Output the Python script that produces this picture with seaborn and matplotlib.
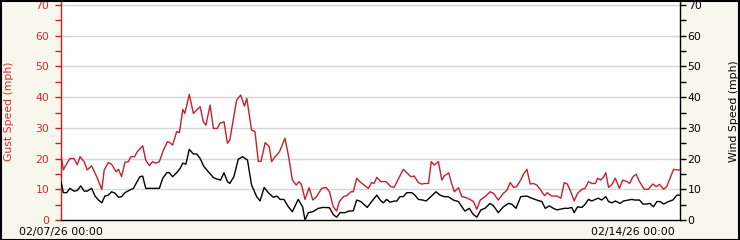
import matplotlib
matplotlib.use("Agg")
import matplotlib.pyplot as plt
from matplotlib.patches import Rectangle
from matplotlib.ticker import FixedLocator, NullFormatter
import seaborn as sns
import pandas as pd

# ---- data (hours since 02/07/26 00:00) ----
gust_hours = [0.0, 0.7, 1.2, 2.6, 3.8, 4.8, 5.6, 6.8, 7.7, 9.0, 10.5, 12.0, 12.7, 13.9, 14.9, 16.2,
              16.9, 17.8, 18.8, 19.8, 20.5, 21.6, 22.4, 24.0, 24.9, 26.0, 26.9, 27.9, 28.9, 30.1,
              31.3, 32.0, 32.8, 34.0, 34.8, 35.8, 36.4, 37.7, 38.9, 39.9, 40.9, 41.8, 42.6, 43.8,
              44.8, 45.9, 46.7, 47.9, 48.9, 49.6, 50.6, 51.6, 52.8, 53.9, 54.6, 56.0, 57.0, 58.0,
              58.8, 60.0, 61.2, 61.9, 62.9, 64.2, 65.8, 66.8, 68.0, 69.1, 70.0, 70.7, 71.7, 72.9,
              74.0, 75.1, 76.6, 77.9, 78.9, 80.0, 81.0, 81.8, 83.0, 84.2, 85.2, 85.9, 86.9, 88.1,
              89.4, 90.3, 91.3, 92.0, 92.8, 94.0, 95.5, 96.9, 97.9, 99.1, 100.6, 101.8, 102.8,
              103.8, 105.0, 106.0, 107.0, 108.0, 108.8, 109.7, 110.9, 111.9, 112.6, 113.9, 114.8,
              115.6, 116.8, 117.8, 119.0, 120.2, 121.2, 122.2, 123.2, 124.6, 126.1, 127.1, 128.5,
              130.0, 131.0, 132.0, 133.0, 133.9, 135.1, 135.9, 136.9, 137.9, 138.8, 139.8, 140.8,
              142.1, 142.9, 144.2, 145.7, 146.9, 147.9, 148.8, 149.8, 150.8, 151.8, 153.1, 154.0,
              155.0, 156.0, 157.0, 157.7, 158.6, 159.4, 160.1, 160.9, 161.9, 162.9, 164.1, 165.1,
              166.3, 167.1, 168.1, 169.0, 170.0, 171.4, 172.6, 173.9, 174.9, 175.9, 177.1, 178.0,
              179.0, 180.0, 181.0, 182.0]
gust_mph = [21.2, 16.3, 17.4, 20.0, 20.0, 18.0, 20.6, 19.0, 16.3, 17.6, 14.1, 10.0, 16.3, 18.7, 18.1, 15.7,
            16.5, 14.1, 18.8, 19.0, 20.6, 20.6, 22.2, 24.2, 19.5, 17.7, 19.0, 18.5, 19.0, 22.8,
            25.5, 25.2, 24.4, 28.8, 28.4, 36.0, 34.7, 40.9, 34.7, 35.8, 36.9, 32.0, 30.9, 37.4,
            29.8, 29.8, 31.5, 32.0, 25.0, 26.0, 32.6, 39.0, 40.7, 37.1, 39.6, 29.3, 28.8, 19.0,
            19.2, 25.2, 23.9, 19.0, 20.6, 22.2, 26.6, 21.2, 13.0, 11.4, 12.5, 11.4, 6.7, 10.5,
            6.5, 7.6, 10.3, 10.6, 9.2, 4.3, 2.9, 6.0, 7.6, 8.1, 9.2, 9.2, 13.6, 12.2,
            11.1, 10.3, 12.2, 11.9, 13.9, 12.5, 12.5, 10.9, 10.6, 13.3, 16.5, 15.2, 14.1,
            14.3, 12.2, 11.7, 11.9, 11.9, 19.0, 17.9, 19.0, 13.0, 14.3, 15.4, 11.9,
            9.2, 10.5, 7.6, 7.3, 6.7, 6.0, 3.5, 6.5, 7.6, 9.2, 8.7, 6.5,
            8.7, 9.6, 12.2, 10.6, 10.9, 13.0, 14.9, 16.5, 11.7, 11.9, 11.4, 10.0,
            7.9, 8.9, 7.8, 7.8, 7.1, 12.2, 11.7, 9.2, 6.2, 8.7, 10.0, 10.3,
            12.5, 11.9, 11.9, 13.6, 13.0, 13.9, 15.4, 10.6, 11.6, 13.6, 10.3, 13.0,
            12.5, 11.9, 14.1, 14.9, 12.5, 10.0, 10.0, 11.7, 10.9, 11.6, 10.0, 10.9,
            13.6, 16.5, 16.3, 16.3]

wind_hours = [0.0, 0.7, 1.7, 2.6, 3.8, 4.8, 5.8, 6.8, 7.7, 9.0, 10.0, 11.0, 12.0, 12.9, 13.9, 14.9,
              15.9, 16.9, 17.8, 18.8, 20.3, 21.3, 22.2, 23.2, 24.0, 24.9, 26.2, 27.6, 28.9, 29.9,
              31.1, 31.8, 32.8, 34.0, 35.0, 35.8, 36.7, 37.7, 38.9, 39.9, 40.9, 42.0, 43.3, 44.8,
              45.9, 46.9, 47.9, 48.9, 49.6, 50.8, 52.1, 53.4, 54.8, 56.0, 57.5, 58.5, 59.7, 60.9,
              62.4, 63.4, 64.4, 65.5, 66.8, 68.0, 69.7, 71.0, 71.7, 72.7, 74.0, 75.6, 77.1, 78.9,
              80.0, 81.0, 82.0, 83.5, 84.5, 85.9, 86.9, 88.1, 88.9, 90.0, 91.3, 92.8, 93.8, 94.7,
              95.7, 96.7, 97.7, 98.7, 99.6, 100.6, 101.6, 103.1, 104.0, 105.0, 106.3, 107.3,
              108.5, 110.2, 111.4, 112.6, 113.8, 115.3, 116.8, 117.8, 118.7, 120.0, 121.0, 122.2,
              123.4, 124.6, 126.1, 127.1, 128.5, 130.0, 131.5, 132.5, 133.7, 135.1, 136.9, 138.3,
              139.8, 141.3, 142.3, 143.5, 144.7, 145.7, 146.7, 147.9, 149.1, 150.1, 150.8, 151.8,
              153.1, 154.0, 155.0, 156.0, 157.0, 157.9, 158.9, 160.1, 160.9, 161.9, 162.9, 164.3,
              165.3, 166.8, 167.7, 168.7, 170.0, 171.0, 172.1, 173.1, 174.1, 175.1, 176.1, 177.1,
              178.5, 179.8, 181.0, 182.0]
wind_mph = [12.5, 8.9, 8.9, 10.3, 9.4, 9.6, 11.1, 9.4, 9.4, 10.3, 7.8, 6.5, 5.6, 7.8, 8.1, 9.2,
            8.7, 7.4, 7.6, 8.9, 9.8, 10.3, 12.2, 14.1, 14.3, 10.3, 10.3, 10.3, 10.3, 13.6,
            15.4, 15.4, 14.1, 15.4, 16.8, 18.5, 18.2, 23.0, 21.5, 21.5, 20.0, 17.4, 15.7, 13.8,
            13.3, 13.0, 15.4, 12.5, 11.9, 14.1, 19.8, 20.6, 19.5, 11.4, 7.6, 6.2, 10.6, 8.9,
            7.4, 7.8, 6.7, 6.7, 4.3, 2.7, 6.7, 4.3, 0.0, 2.4, 2.7, 3.8, 4.1, 4.0,
            1.8, 0.9, 2.4, 2.4, 2.9, 3.0, 6.5, 6.0, 5.2, 4.1, 6.0, 8.1, 6.5, 5.6,
            6.7, 5.8, 6.1, 6.2, 7.6, 7.6, 8.9, 8.9, 8.1, 6.7, 6.5, 6.2,
            7.4, 9.2, 8.1, 7.6, 7.6, 6.5, 6.0, 4.3, 2.9, 3.8, 2.0, 0.9,
            3.3, 3.8, 5.4, 4.6, 2.4, 4.3, 5.4, 5.1, 3.8, 7.6, 7.8, 7.1,
            6.5, 6.0, 3.8, 4.6, 3.8, 3.3, 3.5, 3.8, 3.8, 4.1, 2.4, 4.3,
            4.1, 5.1, 6.7, 6.2, 6.7, 7.1, 6.5, 7.6, 6.0, 5.6, 6.2, 5.4,
            6.2, 6.5, 6.7, 6.5, 6.5, 5.2, 5.2, 5.4, 4.3, 6.0, 6.0, 5.2,
            6.0, 6.5, 8.1, 8.1]

day_ticks = [0, 24, 48, 72, 96, 120, 144, 168]
labeled_ticks = [0, 168]
labeled_text = ["02/07/26 00:00", "02/14/26 00:00"]
y_left_label = "Gust Speed (mph)"
y_right_label = "Wind Speed (mph)"

# ---- style ----
RED = "#C81E2C"
RED_TXT = "#D42A2A"
BG = "#F8F7EE"
FS = 7.8

sns.set_style("white")
plt.rcParams["font.family"] = ["DejaVu Sans"]

W, H = 740, 240
fig = plt.figure(figsize=(W / 100, H / 100), dpi=100, facecolor=BG)
left_px, right_px, top_px, bottom_px = 61, 680, 2, 220
ax = fig.add_axes([left_px / W, 1 - bottom_px / H, (right_px - left_px) / W, (bottom_px - top_px) / H])
ax.set_facecolor("white")

gust_df = pd.DataFrame({"hours": gust_hours, "gust": gust_mph})
wind_df = pd.DataFrame({"hours": wind_hours, "wind": wind_mph})

ymax = 70 * (bottom_px - top_px) / (bottom_px - 5)
xmax = (right_px - left_px) / 81.67 * 24

for yv in range(10, 71, 10):
    ax.axhline(yv, color="#D6D6D6", lw=1.0, zorder=0)

sns.lineplot(data=gust_df, x="hours", y="gust", ax=ax, color=RED, lw=1.0, zorder=3)
ax.set_xlim(0, xmax)
ax.set_ylim(0, ymax)

ax2 = ax.twinx()
sns.lineplot(data=wind_df, x="hours", y="wind", ax=ax2, color="black", lw=1.0, zorder=3)
ax2.set_ylim(0, ymax)
ax2.set_xlim(0, xmax)

# spines
for a in (ax, ax2):
    a.spines["top"].set_visible(False)
ax.spines["left"].set_color(RED)
ax.spines["right"].set_visible(False)
ax.spines["bottom"].set_color("black")
ax2.spines["left"].set_visible(False)
ax2.spines["bottom"].set_visible(False)
ax2.spines["right"].set_color("black")
for s in ("left", "bottom"):
    ax.spines[s].set_linewidth(1.0)
ax2.spines["right"].set_linewidth(1.0)

# y ticks
ax.yaxis.set_major_locator(FixedLocator(list(range(0, 71, 10))))
ax.yaxis.set_minor_locator(FixedLocator(list(range(5, 71, 10))))
ax.tick_params(axis="y", which="both", direction="out", length=4, width=1, color=RED,
               labelcolor=RED_TXT, labelsize=FS, pad=4.5)
ax2.yaxis.set_major_locator(FixedLocator(list(range(0, 71, 10))))
ax2.yaxis.set_minor_locator(FixedLocator(list(range(5, 71, 10))))
ax2.tick_params(axis="y", which="both", direction="out", length=4, width=1, color="black",
                labelcolor="black", labelsize=FS, pad=1.5)

# x ticks
ax.xaxis.set_major_locator(FixedLocator(labeled_ticks))
ax.set_xticklabels(labeled_text)
ax.xaxis.set_minor_locator(FixedLocator([t for t in day_ticks if t not in labeled_ticks]))
ax.xaxis.set_minor_formatter(NullFormatter())
ax.tick_params(axis="x", which="major", direction="in", length=8, width=1, color="black",
               labelsize=FS, pad=5, labelcolor="black")
ax.tick_params(axis="x", which="minor", direction="in", length=3.5, width=1, color="black")
ax2.tick_params(axis="x", which="both", length=0, labelbottom=False)

ax.set_xlabel("")
ax.set_ylabel(y_left_label, color=RED_TXT, fontsize=FS, labelpad=15)
ax2.set_ylabel(y_right_label, color="black", fontsize=FS, labelpad=20)
ax.grid(False)
ax2.grid(False)

fig.add_artist(Rectangle((0.5 / W, 0.5 / H), 1 - 1.5 / W, 1 - 1.5 / H, transform=fig.transFigure,
                         fill=False, edgecolor="black", lw=1.5))

fig.savefig("out.png", dpi=100, facecolor=BG)
